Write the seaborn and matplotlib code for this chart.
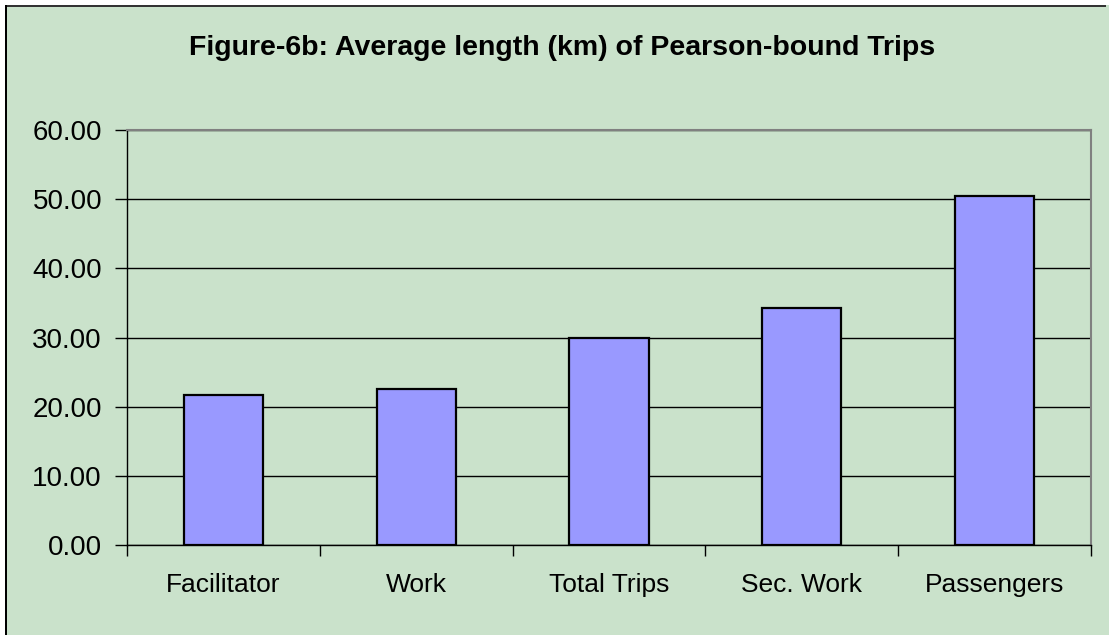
import matplotlib
matplotlib.use("Agg")
import matplotlib.pyplot as plt
import seaborn as sns
import pandas as pd
from matplotlib.patches import Rectangle

# dados
categorias = ["Facilitator", "Work", "Total Trips", "Sec. Work", "Passengers"]
media_km = [21.7, 22.5, 29.9, 34.3, 50.5]
ticks_y = [0, 10, 20, 30, 40, 50, 60]

df = pd.DataFrame({"Tipo": categorias, "Km": media_km})

verde = "#CAE2CB"
sns.set_style("white")
plt.rcParams["font.family"] = ["Liberation Sans", "DejaVu Sans"]
plt.rcParams["text.color"] = "black"
plt.rcParams["xtick.labelcolor"] = "black"
plt.rcParams["ytick.labelcolor"] = "black"

W, H = 1109, 635
fig = plt.figure(figsize=(W / 100, H / 100), dpi=100, facecolor=verde, edgecolor=verde)
# faixas brancas e borda (só topo e esquerda aparecem)
fig.patches.append(Rectangle((0, 1 - 5 / H), 1, 5 / H, transform=fig.transFigure,
                             facecolor="white", edgecolor="none", zorder=-5))
fig.patches.append(Rectangle((0, 0), 5 / W, 1, transform=fig.transFigure,
                             facecolor="white", edgecolor="none", zorder=-5))
fig.patches.append(Rectangle((5 / W, 1 - 7 / H), (W - 8) / W, 2 / H, transform=fig.transFigure,
                             facecolor="#333333", edgecolor="none", zorder=-4))
fig.patches.append(Rectangle((5 / W, 0), 2 / W, 1 - 5 / H, transform=fig.transFigure,
                             facecolor="black", edgecolor="none", zorder=-4))

ax = fig.add_axes([127 / W, 90 / H, 964 / W, 415 / H])
ax.set_facecolor(verde)

sns.barplot(data=df, x="Tipo", y="Km", color="#9999FF", edgecolor="black",
            linewidth=1.6, width=0.41, saturation=1, ax=ax, zorder=3)

ax.set_ylim(0, 60)
ax.set_xlim(-0.5, 4.5)
ax.set_yticks(ticks_y)
ax.set_yticklabels([f"{v:.2f}" for v in ticks_y])
ax.yaxis.grid(True, color="black", linewidth=1)
ax.set_axisbelow(True)

ax.set_xticks(range(len(categorias)))
ax.set_xticks([i - 0.5 for i in range(len(categorias) + 1)], minor=True)
ax.tick_params(axis="x", which="major", length=0, pad=20, labelsize=19)
ax.tick_params(axis="x", which="minor", length=8, width=1, color="black", direction="out")
ax.tick_params(axis="y", length=9, width=1, color="black", direction="out", pad=9, labelsize=20)
ax.tick_params(bottom=True, left=True, which="both")

for s in ["left", "bottom"]:
    ax.spines[s].set_color("black")
    ax.spines[s].set_linewidth(1)
for s in ["top", "right"]:
    ax.spines[s].set_color("#808080")
    ax.spines[s].set_linewidth(1.5)

ax.set_xlabel("")
ax.set_ylabel("")

fig.text(562 / W, 1 - 48 / H, "Figure-6b: Average length (km) of Pearson-bound Trips",
         ha="center", va="center", fontsize=20.5, fontweight="bold", color="black")

plt.savefig("out.png", dpi=100, facecolor=fig.get_facecolor(), edgecolor=verde)
